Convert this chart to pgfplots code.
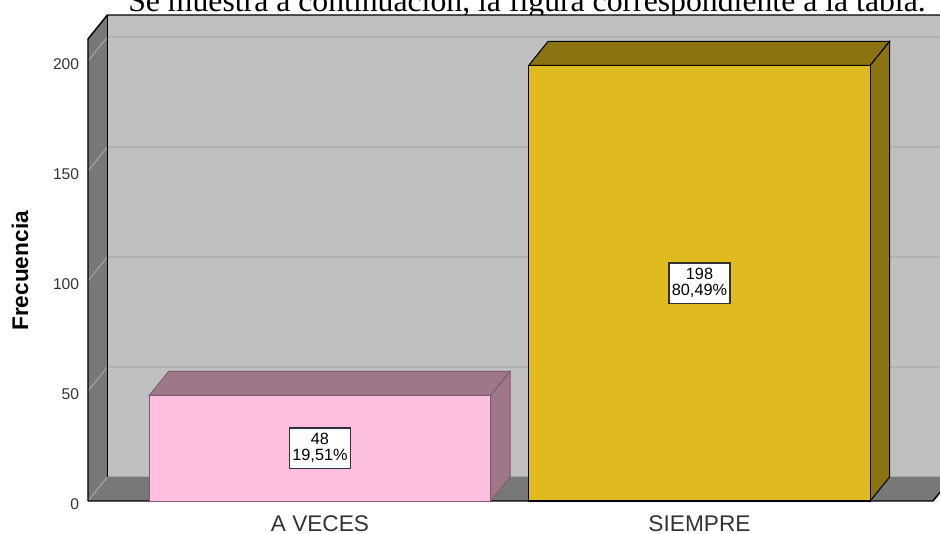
\documentclass[border=0pt]{standalone}
\usepackage{fontspec}
\setmainfont{Liberation Serif}
\newfontfamily\arial{Liberation Sans}
\usepackage{pgfplots}
\pgfplotsset{compat=1.18}
\definecolor{wallback}{HTML}{C0C0C0}
\definecolor{wallside}{HTML}{787878}
\definecolor{gridb}{HTML}{B2B2B2}
\definecolor{grids}{HTML}{A6A6A6}
\definecolor{pinkf}{HTML}{FFC0E0}
\definecolor{pinkd}{HTML}{9E7888}
\definecolor{pinkl}{HTML}{7E5A6A}
\definecolor{goldf}{HTML}{E0BB1F}
\definecolor{goldd}{HTML}{8B7312}
\begin{document}
\begin{tikzpicture}[x=1pt,y=1pt]
\begin{scope}
\clip (0,0) rectangle (705,400.5);
\node[anchor=base west, inner sep=0pt, font=\fontsize{23.8}{28}\selectfont] at (96,391.5) {Se muestra a continuación, la figura correspondiente a la tabla.};
\begin{axis}[
 at={(66pt,24.75pt)}, anchor=south west,
 scale only axis, width=633.75pt, height=346.5pt,
 xmin=-0.6113, xmax=1.6153, ymin=0, ymax=210,
 clip=false,
 axis line style={draw=none},
 major tick length=0pt, tick style={draw=none},
 xtick={0,1}, xticklabels={A VECES,SIEMPRE},
 ytick={0,50,100,150,200},
 /pgf/number format/assume math mode=true,
 yticklabel style={font=\arial\fontsize{11.7}{14}\selectfont, text=black!80, inner sep=0pt, xshift=-6.5pt, yshift=-2.25pt},
 xticklabel style={font=\arial\fontsize{17}{20}\selectfont, text=black!80, inner sep=0pt, yshift=-10.5pt},
 ylabel={Frecuencia},
 every axis y label/.style={at={(axis description cs:-0.0805,0.498)}, rotate=90, anchor=center, font=\arial\bfseries\fontsize{17}{20}\selectfont},
]
% walls and floor
\addplot[fill=wallside, draw=none] coordinates {(-0.6113,0) (-0.6113,210) (-0.5603,220.91) (-0.5603,10.91)} -- cycle;
\addplot[fill=wallback, draw=none] coordinates {(-0.5603,10.91) (-0.5603,220.91) (1.72,220.91) (1.72,10.91)} -- cycle;
\addplot[fill=wallside, draw=none] coordinates {(-0.6113,0) (1.6153,0) (1.6663,10.91) (-0.5603,10.91)} -- cycle;
% grid lines on back wall
\addplot[gridb, line width=1.1pt] coordinates {(-0.5603,60.91) (1.72,60.91)};
\addplot[gridb, line width=1.1pt] coordinates {(-0.5603,110.91) (1.72,110.91)};
\addplot[gridb, line width=1.1pt] coordinates {(-0.5603,160.91) (1.72,160.91)};
\addplot[gridb, line width=1.1pt] coordinates {(-0.5603,210.91) (1.72,210.91)};
\addplot[grids, line width=0.75pt] coordinates {(-0.5603,10.91) (1.72,10.91)};
% grid lines on side wall
\addplot[grids, line width=0.75pt] coordinates {(-0.6113,0) (-0.5603,10.91)};
\addplot[grids, line width=0.75pt] coordinates {(-0.6113,50) (-0.5603,60.91)};
\addplot[grids, line width=0.75pt] coordinates {(-0.6113,100) (-0.5603,110.91)};
\addplot[grids, line width=0.75pt] coordinates {(-0.6113,150) (-0.5603,160.91)};
\addplot[grids, line width=0.75pt] coordinates {(-0.6113,200) (-0.5603,210.91)};
% frame edges
\addplot[black, line width=1.1pt] coordinates {(-0.6113,0) (-0.6113,210) (-0.5603,220.91) (1.72,220.91)};
\addplot[black, line width=1.1pt] coordinates {(-0.5603,10.91) (-0.5603,220.91)};
\addplot[black, line width=1.1pt] coordinates {(-0.6113,0) (1.6153,0) (1.6663,10.91)};
% bar A VECES
\addplot[fill=pinkd, draw=pinkl, line width=0.6pt] coordinates {(-0.45,48) (0.45,48) (0.501,58.91) (-0.399,58.91)} -- cycle;
\addplot[fill=pinkd, draw=pinkl, line width=0.6pt] coordinates {(0.45,0) (0.501,10.91) (0.501,58.91) (0.45,48)} -- cycle;
\addplot[ybar, bar width=0.9, bar shift=0pt, fill=pinkf, draw=pinkl, line width=0.6pt,
  point meta=explicit symbolic, nodes near coords,
  visualization depends on={y \as \rawy},
  every node near coord/.append style={anchor=center, yshift=-0.825pt*\rawy, font=\arial\fontsize{12.2}{12.2}\selectfont, align=center, fill=white, draw=black!80, line width=1pt, inner xsep=2.3pt, inner ysep=4pt, text=black}]
  coordinates {(0,48) [48\\19,51\%]};
% bar SIEMPRE
\addplot[fill=goldd, draw=black, line width=0.8pt] coordinates {(0.55,198) (1.45,198) (1.501,208.91) (0.601,208.91)} -- cycle;
\addplot[fill=goldd, draw=black, line width=0.8pt] coordinates {(1.45,0) (1.501,10.91) (1.501,208.91) (1.45,198)} -- cycle;
\addplot[ybar, bar width=0.9, bar shift=0pt, fill=goldf, draw=black, line width=0.8pt,
  point meta=explicit symbolic, nodes near coords,
  visualization depends on={y \as \rawy},
  every node near coord/.append style={anchor=center, yshift=-0.825pt*\rawy, font=\arial\fontsize{12.2}{12.2}\selectfont, align=center, fill=white, draw=black!80, line width=1pt, inner xsep=2.3pt, inner ysep=4pt, text=black}]
  coordinates {(1,198) [198\\80,49\%]};
\end{axis}
\end{scope}
\pgfresetboundingbox
\useasboundingbox (0,0) rectangle (705,400.5);
\end{tikzpicture}
\end{document}
